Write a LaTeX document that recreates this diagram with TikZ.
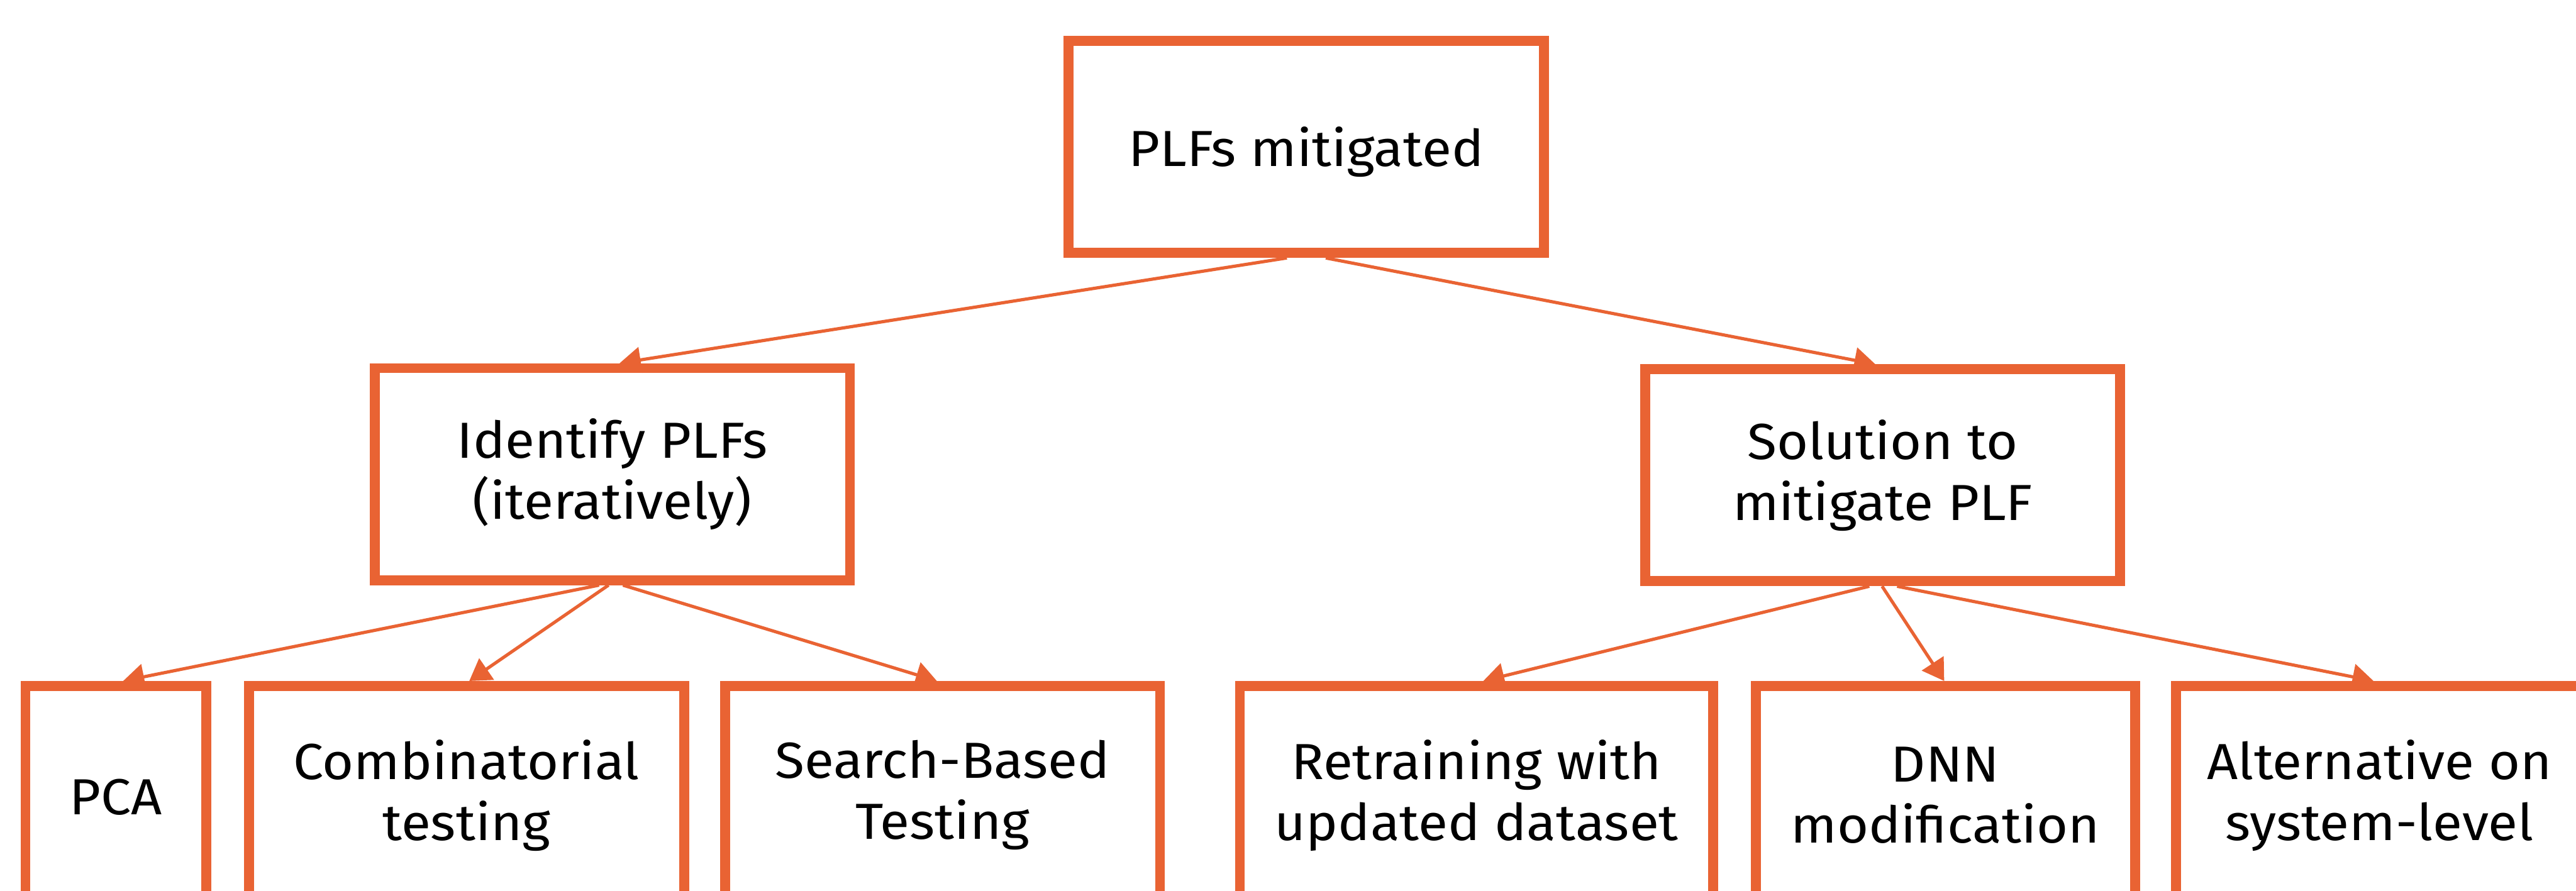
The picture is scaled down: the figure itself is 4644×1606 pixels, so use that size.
\documentclass[tikz,border=0pt]{standalone}
\usepackage{fontspec}
\setmainfont{Fira Sans}[FakeStretch=1.065]
\usetikzlibrary{arrows.meta}
\definecolor{plforange}{HTML}{E96333}
\begin{document}
\begin{tikzpicture}[x=0.01cm, y=-0.01cm,
  box/.style={draw=plforange, line width=0.18cm, fill=white, inner sep=0pt,
    align=center, text=black, font=\fontsize{26}{31.3}\selectfont},
  oneline/.style={text height=0.70cm, text depth=0pt},
  mainbox/.style={box, minimum width=8.56cm, minimum height=3.82cm},
  leafbox/.style={box, minimum height=3.94cm},
  link/.style={draw=plforange, line width=0.058cm,
    -{Triangle[length=0.38cm,width=0.46cm]}}]

\path[use as bounding box, fill=white] (0,0) rectangle (4644,1606);
\clip (0,0) rectangle (4644,1606);

% root
\node[mainbox, oneline] (top) at (2355,265) {PLFs mitigated};

% second level
\node[mainbox] (ident) at (1104,855) {Identify PLFs\\(iteratively)};
\node[mainbox] (sol) at (3394,857) {Solution to\\mitigate PLF};

% leaves
\node[leafbox, oneline, minimum width=3.26cm] (pca) at (209,1434) {PCA};
\node[leafbox, minimum width=7.84cm] (comb) at (841,1434) {Combinatorial\\testing};
\node[leafbox, minimum width=7.84cm] (search) at (1699,1434) {Search-Based\\Testing};
\node[leafbox, minimum width=8.53cm] (retr) at (2662,1434) {Retraining with\\updated dataset};
\node[leafbox, minimum width=6.83cm] (dnn) at (3507,1434) {DNN\\modification};
\node[leafbox, minimum width=7.34cm] (alt) at (4290,1434) {Alternative on\\system-level};

% connectors
\draw[link] ([xshift=-0.35cm]top.south) -- ([xshift=0.13cm]ident.north);
\draw[link] ([xshift=0.35cm]top.south) -- ([xshift=-0.13cm]sol.north);

\draw[link] ([xshift=-0.24cm]ident.south) -- ([xshift=0.13cm]pca.north);
\draw[link] ([xshift=-0.07cm]ident.south) -- ([xshift=0.05cm]comb.north);
\draw[link] ([xshift=0.19cm]ident.south) -- ([xshift=-0.10cm]search.north);

\draw[link] ([xshift=-0.24cm]sol.south) -- ([xshift=0.12cm]retr.north);
\draw[link] ([xshift=-0.01cm]sol.south) -- ([xshift=-0.02cm]dnn.north);
\draw[link] ([xshift=0.26cm]sol.south) -- ([xshift=-0.11cm]alt.north);
\end{tikzpicture}
\end{document}
